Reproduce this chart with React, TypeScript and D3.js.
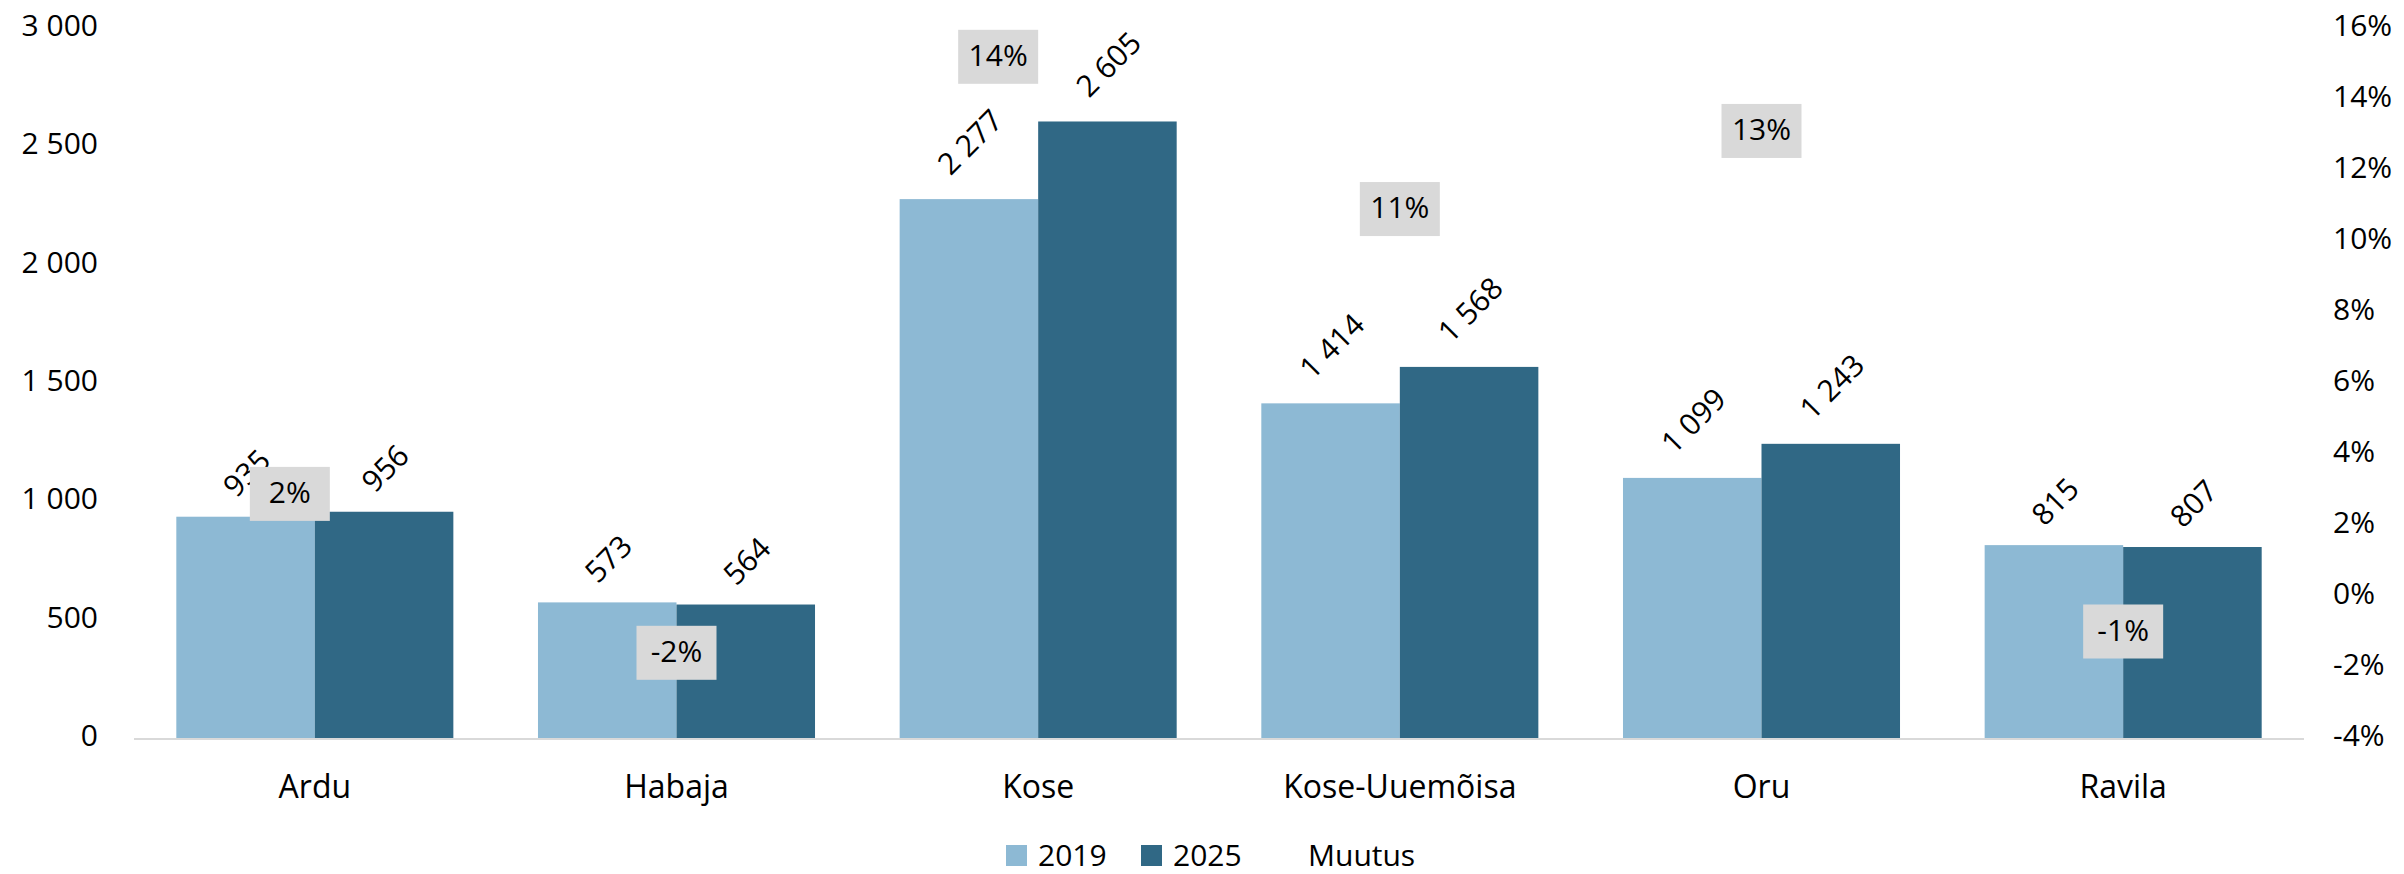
import React from "react";
import * as d3 from "d3";

const categories = ["Ardu", "Habaja", "Kose", "Kose-Uuemõisa", "Oru", "Ravila"];
const values2019 = [935, 573, 2277, 1414, 1099, 815];
const values2025 = [956, 564, 2605, 1568, 1243, 807];
const muutus = [0.022, -0.016, 0.144, 0.109, 0.131, -0.01];
const seriesNames = ["2019", "2025", "Muutus"];
const leftTicks = [0, 500, 1000, 1500, 2000, 2500, 3000];
const rightTicks = [-0.04, -0.02, 0, 0.02, 0.04, 0.06, 0.08, 0.1, 0.12, 0.14, 0.16];

// label nudges (layout only)
const muutusLabelOffsets: [number, number][] = [[-25, -24], [0, 0], [-40, -28], [0, 0], [0, 0], [0, 0]];

const W = 2404;
const H = 874;
const FONT = "'Open Sans', 'Noto Sans', sans-serif";
const C2019 = "#8DB9D4";
const C2025 = "#306885";

const locale = d3.formatLocale({ decimal: ",", thousands: " ", grouping: [3], currency: ["", ""] });
const fmtNum = locale.format(",");
const fmtPct = (v: number) => `${Math.round(v * 100)}%`;

export default function App() {
  const left = 134, right = 2304, top = 28, bottom = 738;
  const x = d3.scaleBand<string>().domain(categories).range([left, right]).paddingInner(0.234).paddingOuter(0.117);
  const x1 = d3.scaleBand<string>().domain(["2019", "2025"]).range([0, x.bandwidth()]);
  const y = d3.scaleLinear().domain([0, 3000]).range([bottom, top]);
  const y2 = d3.scaleLinear().domain([-0.04, 0.16]).range([bottom, top]);

  const series = [
    { name: "2019", values: values2019, color: C2019 },
    { name: "2025", values: values2025, color: C2025 },
  ];

  const labelFs = 30;
  const estLen = (s: string) => {
    let l = 0;
    for (const ch of s) l += ch === " " ? 0.26 : 0.55;
    return l * 28;
  };

  return (
    <svg width={W} height={H} style={{ position: "absolute", left: 0, top: 0, display: "block", background: "#fff" }} fontFamily={FONT}>
      {leftTicks.map((t) => (
        <text key={"l" + t} x={98} y={y(t)} textAnchor="end" dominantBaseline="middle" fontSize={30} fill="#000">
          {fmtNum(t)}
        </text>
      ))}
      {rightTicks.map((t) => (
        <text key={"r" + t} x={2333} y={y2(t)} textAnchor="start" dominantBaseline="middle" fontSize={30} fill="#000">
          {fmtPct(t)}
        </text>
      ))}
      {series.map((s) =>
        s.values.map((v, i) => {
          const bx = (x(categories[i]) as number) + (x1(s.name) as number);
          return (
            <rect key={s.name + i} x={bx} y={y(v)} width={x1.bandwidth()} height={y(0) - y(v)} fill={s.color} />
          );
        })
      )}
      <line x1={left} x2={right} y1={y(0) + 1} y2={y(0) + 1} stroke="#D9D9D9" strokeWidth={2} />
      {series.map((s) =>
        s.values.map((v, i) => {
          const cx = (x(categories[i]) as number) + (x1(s.name) as number) + x1.bandwidth() / 2 + 3;
          const txt = fmtNum(v);
          const L = estLen(txt);
          const cy = y(v) - (14 + 0.6 * L);
          return (
            <text
              key={"lbl" + s.name + i}
              transform={`translate(${cx},${cy}) rotate(-45)`}
              textAnchor="middle"
              dominantBaseline="middle"
              fontSize={labelFs}
              fill="#000"
            >
              {txt}
            </text>
          );
        })
      )}
      {categories.map((c) => (
        <text key={"c" + c} x={(x(c) as number) + x.bandwidth() / 2} y={798} textAnchor="middle" fontSize={32} fill="#000">
          {c}
        </text>
      ))}
      {muutus.map((m, i) => {
        const [dx, dy] = muutusLabelOffsets[i];
        const cx = (x(categories[i]) as number) + x.bandwidth() / 2 + dx;
        const cy = y2(m) + dy;
        const bw = 80, bh = 54;
        return (
          <g key={"m" + i}>
            <rect x={cx - bw / 2} y={cy - bh / 2} width={bw} height={bh} fill="#D9D9D9" />
            <text x={cx} y={cy + 1} textAnchor="middle" dominantBaseline="middle" fontSize={30} fill="#000">
              {fmtPct(m)}
            </text>
          </g>
        );
      })}
      <g>
        <rect x={1006} y={845} width={21} height={21} fill={C2019} />
        <text x={1038} y={866} fontSize={30} fill="#000">{seriesNames[0]}</text>
        <rect x={1141} y={845} width={21} height={21} fill={C2025} />
        <text x={1173} y={866} fontSize={30} fill="#000">{seriesNames[1]}</text>
        <text x={1308} y={866} fontSize={30} fill="#000">{seriesNames[2]}</text>
      </g>
    </svg>
  );
}
